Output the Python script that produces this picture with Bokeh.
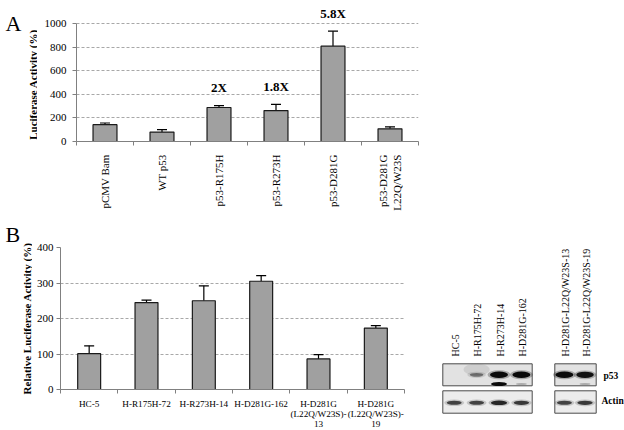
import math
from bokeh.plotting import figure
from bokeh.models import ColumnDataSource, Range1d, FixedTicker, Whisker, TeeHead
from bokeh.layouts import column, row
from bokeh.embed import file_html
from bokeh.resources import INLINE
from bokeh.core.properties import value

# ---------------- data ----------------
a_categories = ["pCMV Bam", "WT p53", "p53-R175H", "p53-R273H", "p53-D281G", "p53-D281G\nL22Q/W23S"]
a_values = [143, 80, 288, 262, 808, 107]
a_errors = [14, 20, 16, 52, 127, 17]
a_fold_labels = ["", "", "2X", "1.8X", "5.8X", ""]
a_yticks = [0, 200, 400, 600, 800, 1000]
a_ytitle = "Luciferase Activity (%)"

b_categories = ["HC-5", "H-R175H-72", "H-R273H-14", "H-D281G-162",
                "H-D281G\n(L22Q/W23S)-\n13", "H-D281G\n(L22Q/W23S)-\n19"]
b_values = [101, 245, 250, 305, 86, 173]
b_errors = [22, 7, 42, 16, 12, 7]
b_yticks = [0, 100, 200, 300, 400]
b_ytitle = "Relative Luciferase Activity (%)"

blot_lanes = ["HC-5", "H-R175H-72", "H-R273H-14", "H-D281G-162",
              "H-D281G-L22Q/W23S-13", "H-D281G-L22Q/W23S-19"]
blot_rows = ["p53", "Actin"]
p53_main = [0.0, 0.45, 1.0, 1.0, 1.0, 0.95]
p53_lower = [0.0, 0.0, 1.0, 0.25, 0.0, 0.25]
actin_band = [0.75, 0.75, 0.9, 0.8, 0.75, 0.8]

FONT = "Liberation Serif"
BAR_FILL = "#a0a0a0"
AXIS_COL = "#808080"
GRID_COL = "#a8a8a8"


def style_axes(p, xticks, xminor, xlabels, yticks, xorient, xstandoff,
               ystandoff, xfont, xlineh):
    xa = p.xaxis[0]
    xa.ticker = FixedTicker(ticks=xticks, minor_ticks=xminor)
    xa.major_label_overrides = {t: lab for t, lab in zip(xticks, xlabels)}
    xa.major_label_orientation = xorient
    xa.major_tick_out = 0
    xa.major_tick_in = 0
    xa.minor_tick_out = 4
    xa.minor_tick_in = 0
    xa.axis_line_color = AXIS_COL
    xa.minor_tick_line_color = AXIS_COL
    xa.major_label_standoff = xstandoff
    xa.major_label_text_font = FONT
    xa.major_label_text_font_size = xfont
    xa.major_label_text_color = "black"
    xa.major_label_text_line_height = xlineh

    ya = p.yaxis[0]
    yt = FixedTicker(ticks=yticks, minor_ticks=[])
    ya.ticker = yt
    ya.bounds = (yticks[0], yticks[-1])
    ya.major_tick_out = 4
    ya.major_tick_in = 0
    ya.minor_tick_out = 0
    ya.minor_tick_in = 0
    ya.axis_line_color = AXIS_COL
    ya.major_tick_line_color = AXIS_COL
    ya.major_label_standoff = ystandoff
    ya.major_label_text_font = FONT
    ya.major_label_text_font_size = "11px"
    ya.major_label_text_color = "black"

    p.xgrid.visible = False
    p.ygrid.ticker = yt
    p.ygrid.grid_line_color = GRID_COL
    p.ygrid.grid_line_dash = "3 2"
    p.ygrid.grid_line_width = 1
    p.outline_line_color = None
    p.background_fill_color = "white"
    p.border_fill_color = "white"


def blank(p):
    p.grid.visible = False
    p.outline_line_color = None
    p.background_fill_color = "white"
    p.border_fill_color = "white"


def strip(w, h, letter, letter_y, title, title_x, title_y):
    s = figure(width=w, height=h, x_range=Range1d(0, w), y_range=Range1d(h, 0),
               min_border=0, output_backend="svg", toolbar_location=None,
               x_axis_location=None, y_axis_location=None, frame_align=False)
    blank(s)
    s.text(x=[5], y=[letter_y], text=[letter], text_font=value(FONT),
           text_font_size="22px", text_align="left", text_baseline="alphabetic",
           text_color="black")
    s.text(x=[title_x], y=[title_y], text=[title], angle=math.pi / 2,
           text_font=value(FONT), text_font_size="11px", text_font_style="bold",
           text_align="center", text_baseline="middle", text_color="black")
    return s


TOP_H = 212
BOT_H = 430 - TOP_H
LWA = 37
LWB = 32

pLA = strip(LWA, TOP_H, "A", 23, a_ytitle, 32, 84)
pLB = strip(LWB, BOT_H, "B", 233 - TOP_H, b_ytitle, 26.5, 317 - TOP_H)

# ---------------- panel A ----------------
nA = len(a_categories)
pA = figure(frame_width=342, frame_height=141, x_range=Range1d(0, nA), y_range=Range1d(0, 1195),
            min_border_left=76 - LWA, min_border_right=12, min_border_top=0,
            min_border_bottom=TOP_H - 141,
            output_backend="svg", toolbar_location=None, frame_align=False)
a_x = [i + 0.5 for i in range(nA)]
style_axes(pA, a_x, list(range(nA + 1)), a_categories, a_yticks,
           math.pi / 2, 9, 6, "11px", 1.1)

srcA = ColumnDataSource(dict(
    x=a_x, top=a_values,
    upper=[v + e for v, e in zip(a_values, a_errors)],
    lab=a_fold_labels,
    laby=[v + e + 150 for v, e in zip(a_values, a_errors)],
))
pA.add_layout(Whisker(source=srcA, base="x", upper="upper", lower="top", dimension="height",
                      line_color="black", line_width=1.2,
                      upper_head=TeeHead(size=10, line_color="black", line_width=1.2),
                      lower_head=None))
pA.vbar(x="x", top="top", width=0.42, source=srcA, fill_color=BAR_FILL,
        line_color="#1a1a1a", line_width=1.2)
pA.text(x="x", y="laby", text="lab", source=srcA, text_font=value(FONT),
        text_font_style="bold", text_font_size="13px", text_align="center",
        text_baseline="middle", text_color="black")

# ---------------- panel B ----------------
nB = len(b_categories)
pB = figure(frame_width=344, frame_height=142, x_range=Range1d(0, nB), y_range=Range1d(0, 400),
            min_border_left=60 - LWB, min_border_right=8, min_border_top=34,
            min_border_bottom=BOT_H - 34 - 142,
            output_backend="svg", toolbar_location=None, frame_align=False)
b_x = [i + 0.5 for i in range(nB)]
style_axes(pB, b_x, list(range(nB + 1)), b_categories, b_yticks,
           "horizontal", 5, 3, "9.2px", 1.0)

srcB = ColumnDataSource(dict(
    x=b_x, top=b_values,
    upper=[v + e for v, e in zip(b_values, b_errors)],
))
pB.add_layout(Whisker(source=srcB, base="x", upper="upper", lower="top", dimension="height",
                      line_color="black", line_width=1.2,
                      upper_head=TeeHead(size=10, line_color="black", line_width=1.2),
                      lower_head=None))
pB.vbar(x="x", top="top", width=0.40, source=srcB, fill_color=BAR_FILL,
        line_color="#1a1a1a", line_width=1.2)

# ---------------- western blot ----------------
X0, X1, Y0, Y1 = 412, 624, TOP_H, 430
pW = figure(width=X1 - X0, height=Y1 - Y0, x_range=Range1d(X0, X1), y_range=Range1d(Y1, Y0),
            min_border=0, output_backend="svg", toolbar_location=None,
            x_axis_location=None, y_axis_location=None, frame_align=False)
blank(pW)

lane_slots = [0, 1, 2, 3, 4.92, 5.84]
lane_x = [453.7 + 22.4 * s for s in lane_slots]
groups_l = [442.3, 554.3]
groups_r = [531.7, 595.7]
row_top = [362.3, 389.3]
row_bot = [384.3, 411.7]
row_fill = ["#e2e2e2", "#ececec"]
for r in range(2):
    pW.quad(left=groups_l, right=groups_r, top=[row_top[r]] * 2, bottom=[row_bot[r]] * 2,
            fill_color=row_fill[r], line_color="#4a4a4a", line_width=1)

# faint haze around the R175H lane
pW.ellipse(x=[lane_x[1]], y=[368], width=26, height=12, fill_color="#777777",
           fill_alpha=0.18, line_color=None)

p53_y = 373.3
low_y = 382.5
act_y = 401.3
srcW = ColumnDataSource(dict(
    x=lane_x, lane=blot_lanes, labx=[v + 1 for v in lane_x],
    p53=p53_main, low=p53_lower, act=actin_band,
    p53_w=[10 + 8 * v for v in p53_main], p53_h=[1.5 + 5 * v for v in p53_main],
    p53_w2=[15 + 8 * v for v in p53_main], p53_h2=[4 + 5 * v for v in p53_main],
    p53_a2=[0.3 * v for v in p53_main],
    low_w=[9 + 7 * v for v in p53_lower], low_h=[1.5 + 2.5 * v for v in p53_lower],
    act_w=[9 + 8 * v for v in actin_band], act_h=[1.5 + 3.5 * v for v in actin_band],
    act_w2=[14 + 8 * v for v in actin_band], act_h2=[4 + 3.5 * v for v in actin_band],
    act_a2=[0.25 * v for v in actin_band],
))
pW.ellipse(x="x", y=p53_y, width="p53_w2", height="p53_h2", source=srcW,
           fill_color="#222222", fill_alpha="p53_a2", line_color=None)
pW.ellipse(x="x", y=p53_y, width="p53_w", height="p53_h", source=srcW,
           fill_color="#0a0a0a", fill_alpha="p53", line_color=None)
pW.ellipse(x="x", y=low_y, width="low_w", height="low_h", source=srcW,
           fill_color="#0a0a0a", fill_alpha="low", line_color=None)
pW.ellipse(x="x", y=act_y, width="act_w2", height="act_h2", source=srcW,
           fill_color="#222222", fill_alpha="act_a2", line_color=None)
pW.ellipse(x="x", y=act_y, width="act_w", height="act_h", source=srcW,
           fill_color="#151515", fill_alpha="act", line_color=None)

pW.text(x="labx", y=355, text="lane", source=srcW, angle=math.pi / 2,
        text_font=value(FONT), text_font_size="10px", text_align="left",
        text_baseline="middle", text_color="black")
pW.text(x=[603, 601], y=[374.3, 399.3], text=blot_rows, text_font=value(FONT),
        text_font_style="bold", text_font_size="9.5px", text_align="left",
        text_baseline="middle", text_color="black")

layout = column(row(pLA, pA), row(pLB, pB, pW))
open("out.html", "w").write(file_html(layout, INLINE))
